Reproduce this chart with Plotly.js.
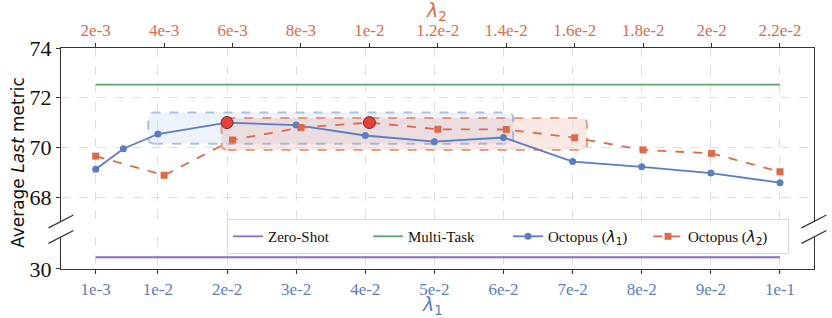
<!DOCTYPE html>
<html>
<head>
<meta charset="utf-8">
<script src="https://cdn.plot.ly/plotly-3.0.1.min.js"></script>
<style>
  html, body { margin: 0; padding: 0; background: #fff; }
  #chart { width: 832px; height: 318px; }
</style>
</head>
<body>
<div id="chart"></div>
<script>
// Sensitivity of the Average Last metric to the two Octopus coefficients
const lambda1 = [0.001, 0.005, 0.01, 0.02, 0.03, 0.04, 0.05, 0.06, 0.07, 0.08, 0.09, 0.1];
const octopusL1 = [69.12, 69.95, 70.54, 71.0, 70.9, 70.48, 70.23, 70.4, 69.43, 69.22, 68.97, 68.58];

const lambda2 = [0.002, 0.004, 0.006, 0.008, 0.01, 0.012, 0.014, 0.016, 0.018, 0.02, 0.022];
const octopusL2 = [69.65, 68.88, 70.3, 70.8, 71.0, 70.73, 70.72, 70.39, 69.9, 69.76, 69.02];

const zeroShot = 31.1;
const multiTask = 72.53;

const lambda1Ticks = [0.001, 0.01, 0.02, 0.03, 0.04, 0.05, 0.06, 0.07, 0.08, 0.09, 0.1];
const lambda1Labels = ['1e-3', '1e-2', '2e-2', '3e-2', '4e-2', '5e-2', '6e-2', '7e-2', '8e-2', '9e-2', '1e-1'];
const lambda2Labels = ['2e-3', '4e-3', '6e-3', '8e-3', '1e-2', '1.2e-2', '1.4e-2', '1.6e-2', '1.8e-2', '2e-2', '2.2e-2'];

// best setting of each coefficient
const bestL1 = 3;
const bestL2 = 4;

// stable regions shaded for each coefficient: [x0, x1, y0, y1]
const regionL1 = [0.0086, 0.0614, 70.15, 71.41];
const regionL2 = [0.00568, 0.01636, 69.9, 71.18];

const BLUE = '#5a7dc3';
const ORANGE = '#dd6b4b';
const GREEN = '#5aa469';
const PURPLE = '#8d6bc9';
const SERIF = 'Liberation Serif';
const SANS = 'DejaVu Sans';

const W = 832, H = 318;
const M = {l: 61, r: 18, t: 48, b: 49};
const plotW = W - M.l - M.r, plotH = H - M.t - M.b;
const x1Range = [-0.00402, 0.10492];
const x2Range = [0.000986, 0.022994];
const yTopRange = [67, 74];
const yTopDomain = [0.2127, 1];
const yBotDomain = [0, 0.1448];

// rounded rectangle path in data units, corner radius given in pixels
function roundRect(r, xRange, radiusPx) {
  const [x0, x1, y0, y1] = r;
  const rx = radiusPx * (xRange[1] - xRange[0]) / plotW;
  const ry = radiusPx * (yTopRange[1] - yTopRange[0]) / (plotH * (yTopDomain[1] - yTopDomain[0]));
  return `M${x0 + rx},${y0} L${x1 - rx},${y0} Q${x1},${y0} ${x1},${y0 + ry} ` +
         `L${x1},${y1 - ry} Q${x1},${y1} ${x1 - rx},${y1} L${x0 + rx},${y1} ` +
         `Q${x0},${y1} ${x0},${y1 - ry} L${x0},${y0 + ry} Q${x0},${y0} ${x0 + rx},${y0} Z`;
}

const lam = (i) => `<span style="font-family:'DejaVu Sans'"><i>λ</i><sub>${i}</sub></span>`;

const traces = [
  {
    x: [lambda1[0], lambda1[lambda1.length - 1]], y: [zeroShot, zeroShot],
    xaxis: 'x', yaxis: 'y2', mode: 'lines', name: 'Zero-Shot',
    line: {color: PURPLE, width: 1.8}
  },
  {
    x: [lambda1[0], lambda1[lambda1.length - 1]], y: [multiTask, multiTask],
    xaxis: 'x', yaxis: 'y', mode: 'lines', name: 'Multi-Task',
    line: {color: GREEN, width: 1.8}
  },
  {
    x: lambda1, y: octopusL1, xaxis: 'x', yaxis: 'y', mode: 'lines+markers',
    name: 'Octopus (' + lam(1) + ')',
    line: {color: BLUE, width: 1.8}, marker: {color: BLUE, size: 7, symbol: 'circle'}
  },
  {
    x: lambda2, y: octopusL2, xaxis: 'x2', yaxis: 'y', mode: 'lines+markers',
    name: 'Octopus (' + lam(2) + ')',
    line: {color: ORANGE, width: 1.8, dash: 'dash'}, marker: {color: ORANGE, size: 7, symbol: 'square'}
  },
  {
    x: [lambda1[bestL1]], y: [octopusL1[bestL1]], xaxis: 'x', yaxis: 'y', mode: 'markers',
    showlegend: false, hoverinfo: 'skip',
    marker: {color: '#e8413c', size: 12, line: {color: '#6b2b2b', width: 1}}
  },
  {
    x: [lambda2[bestL2]], y: [octopusL2[bestL2]], xaxis: 'x2', yaxis: 'y', mode: 'markers',
    showlegend: false, hoverinfo: 'skip',
    marker: {color: '#e8413c', size: 12, line: {color: '#6b2b2b', width: 1}}
  }
];

const axisLine = {showline: true, linecolor: '#333', linewidth: 1.2, ticks: 'outside',
                  ticklen: 4, tickcolor: '#333', zeroline: false};

// diagonal marks where the y axis is broken
const slash = (xc, yc) => ({
  type: 'line', xref: 'paper', yref: 'paper',
  x0: xc - 0.0166, x1: xc + 0.0166, y0: yc - 0.029, y1: yc + 0.029,
  line: {color: '#333', width: 1.2}
});

const layout = {
  width: W, height: H,
  margin: M,
  paper_bgcolor: '#fff', plot_bgcolor: 'rgba(0,0,0,0)',
  font: {family: SERIF},
  showlegend: true,
  legend: {
    orientation: 'h', x: 0.2205, y: 0.226, xanchor: 'left', yanchor: 'top',
    bgcolor: 'rgba(255,255,255,0.92)', bordercolor: '#d8d8d8', borderwidth: 1,
    font: {family: SERIF, size: 15, color: '#111'},
    entrywidth: 95, entrywidthmode: 'pixels', traceorder: 'normal'
  },
  xaxis: Object.assign({}, axisLine, {
    anchor: 'y2', range: x1Range,
    tickmode: 'array', tickvals: lambda1Ticks, ticktext: lambda1Labels,
    tickfont: {family: SERIF, size: 17, color: BLUE},
    showgrid: true, gridcolor: '#dedede', griddash: 'dash', gridwidth: 1
  }),
  xaxis2: Object.assign({}, axisLine, {
    overlaying: 'x', side: 'top', anchor: 'y', range: x2Range,
    tickmode: 'array', tickvals: lambda2, ticktext: lambda2Labels,
    tickfont: {family: SERIF, size: 17, color: ORANGE},
    showgrid: false
  }),
  yaxis: Object.assign({}, axisLine, {
    domain: yTopDomain, range: yTopRange, mirror: true,
    tickmode: 'array', tickvals: [68, 70, 72, 74],
    tickfont: {family: SERIF, size: 22, color: '#111'},
    showgrid: true, gridcolor: '#dedede', griddash: 'dash', gridwidth: 1
  }),
  yaxis2: Object.assign({}, axisLine, {
    domain: yBotDomain, range: [30, 33], mirror: true,
    tickmode: 'array', tickvals: [30],
    tickfont: {family: SERIF, size: 22, color: '#111'},
    showgrid: false
  }),
  shapes: [
    {
      type: 'path', xref: 'x', yref: 'y', layer: 'below',
      path: roundRect(regionL1, x1Range, 6),
      fillcolor: 'rgba(120,155,220,0.13)',
      line: {color: 'rgba(120,155,215,0.6)', width: 2, dash: 'dash'}
    },
    {
      type: 'path', xref: 'x2', yref: 'y', layer: 'below',
      path: roundRect(regionL2, x2Range, 6),
      fillcolor: 'rgba(221,120,90,0.17)',
      line: {color: 'rgba(225,120,85,0.7)', width: 2, dash: 'dash'}
    },
    slash(0, 0.215), slash(0, 0.145),
    slash(1, 0.215), slash(1, 0.145)
  ],
  annotations: [
    {
      xref: 'paper', yref: 'paper', x: -0.057, y: 0.48, xanchor: 'center', yanchor: 'middle',
      text: 'Average <i>Last</i> metric', textangle: -90, showarrow: false,
      font: {family: SANS, size: 17, color: '#111'}
    },
    {
      xref: 'paper', yref: 'paper', x: 0.494, y: -0.163, xanchor: 'center', yanchor: 'middle',
      text: '<i>λ</i><sub>1</sub>', showarrow: false,
      font: {family: SANS, size: 19, color: BLUE}
    },
    {
      xref: 'paper', yref: 'paper', x: 0.499, y: 1.163, xanchor: 'center', yanchor: 'middle',
      text: '<i>λ</i><sub>2</sub>', showarrow: false,
      font: {family: SANS, size: 19, color: ORANGE}
    }
  ]
};

Plotly.newPlot('chart', traces, layout, {displayModeBar: false, staticPlot: true});
</script>
</body>
</html>
